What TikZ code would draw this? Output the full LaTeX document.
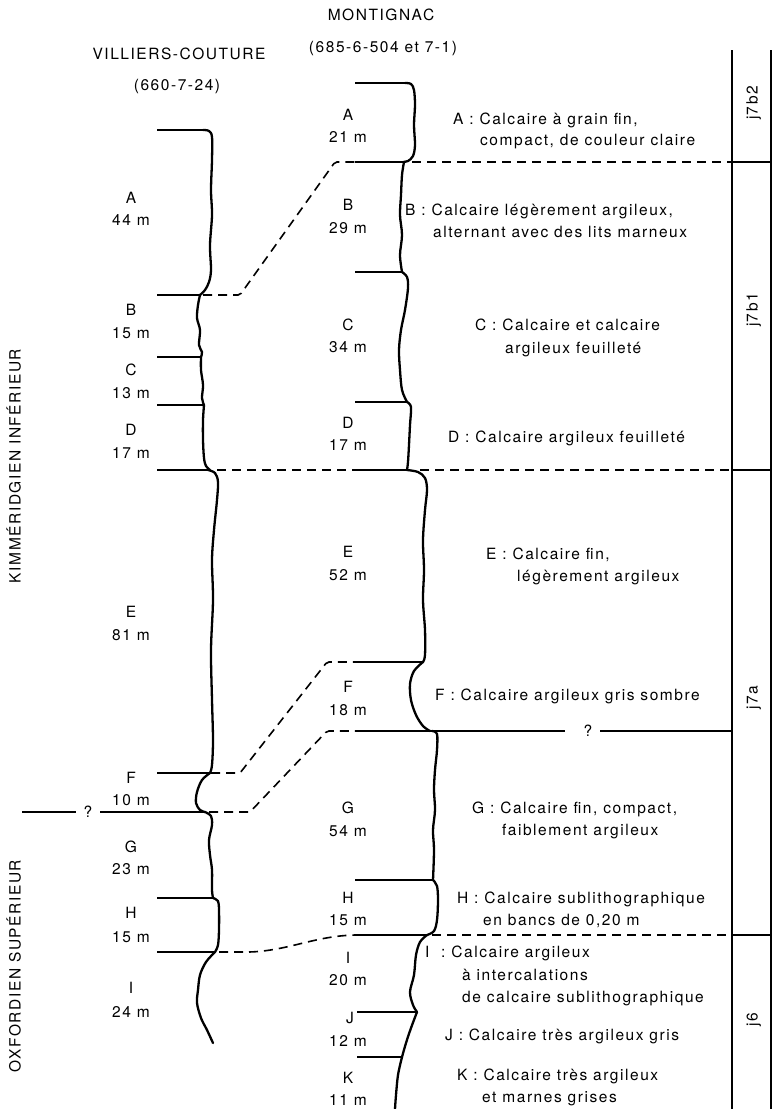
\documentclass[tikz,border=0pt]{standalone}
\usepackage{fontspec}
\setmainfont{TeX Gyre Heros}[LetterSpace=10]
\newcommand\fsz{\fontsize{15.5}{18}\selectfont}
\tikzset{
  hline/.style={line width=1.7pt},
  prof/.style={line width=2.3pt, line join=round, line cap=round},
  dsh/.style={line width=1.6pt, dash pattern=on 9pt off 6pt, rounded corners=2pt},
  colline/.style={line width=1.8pt},
  txt/.style={inner sep=0pt, text height=11pt, text depth=0pt, font=\fsz},
  lab/.style={txt, anchor=center},
  desc/.style={txt, anchor=west},
  rot/.style={txt, anchor=center, rotate=90}
}
\begin{document}
\begin{tikzpicture}[x=1pt,y=-1pt]
\fill[white] (0,0) rectangle (778,1109);
\useasboundingbox (0,0) rectangle (778,1109);

% ---------- titles ----------
\node[lab] (tM1) at (381,15) {MONTIGNAC};
\node[lab] (tM2) at (383,47) {(685-6-504 et 7-1)};
\node[lab] (tV1) at (179,54) {VILLIERS-COUTURE};
\node[lab] (tV2) at (177,85) {(660-7-24)};

\node[rot] (kim) at (15,466) {KIMMÉRIDGIEN INFÉRIEUR};
\node[rot] (oxf) at (15,966) {OXFORDIEN SUPÉRIEUR};

% ---------- right stage column ----------
\draw[colline] (732,50) -- (732,1109);
\draw[colline] (771,50) -- (771,1109);
\draw[hline] (732,162) -- (771,162);
\draw[hline] (732,470) -- (771,470);
\draw[hline] (732,935) -- (771,935);
\node[rot] (s1) at (752,103) {j7b2};
\node[rot] (s2) at (752,310) {j7b1};
\node[rot] (s3) at (752,698) {j7a};
\node[rot] (s4) at (752,1020) {j6};

% ---------- Villiers-Couture column ----------
\draw[hline] (157,130) -- (203,130);
\draw[prof] plot[smooth, tension=0.55] coordinates {(203,130) (209,131) (212,137) (212,160) (211,190) (212,215) (210,245) (211,270) (209,282) (205,290) (200,295)};
\draw[hline] (157,295) -- (200,295);
\draw[prof] plot[smooth, tension=0.55] coordinates {(200,295) (198,305) (197,318) (200,330) (199,345) (202,352) (201,357)};
\draw[hline] (157,357) -- (201,357);
\draw[prof] plot[smooth, tension=0.55] coordinates {(201,357) (201,370) (203,385) (202,398) (204,405)};
\draw[hline] (157,405) -- (204,405);
\draw[prof] plot[smooth, tension=0.55] coordinates {(204,405) (203,420) (203,440) (204,458) (206,466) (210,470)};
\draw[hline] (157,470) -- (210,470);
\draw[prof] plot[smooth, tension=0.55] coordinates {(208,470) (215,473) (218,482) (217,500) (214,530) (212,560) (213,600) (211,650) (212,700) (213,740) (212,765) (210,773)};
\draw[hline] (157,773) -- (210,773);
\draw[prof] plot[smooth, tension=0.55] coordinates {(210,773) (202,780) (197,792) (196,803) (200,810) (205,812)};
\draw[hline] (22,812) -- (76,812);
\node[lab] (q1) at (88,812) {?};
\draw[hline] (100,812) -- (205,812);
\draw[prof] plot[smooth, tension=0.55] coordinates {(205,812) (211,816) (212,825) (209,840) (210,855) (212,870) (212,890) (213,898)};
\draw[hline] (157,898) -- (213,898);
\draw[prof] plot[smooth, tension=0.55] coordinates {(213,898) (218,901) (219,910) (219,930) (218,945) (215,952)};
\draw[hline] (157,952) -- (215,952);
\draw[prof] plot[smooth, tension=0.55] coordinates {(215,952) (206,962) (200,975) (198,990) (197,1003) (201,1018) (207,1030) (213,1043)};

% Villiers labels
\node[lab] (vA1) at (131,198) {A};  \node[lab] (vA2) at (131,220) {44 m};
\node[lab] (vB1) at (131,310) {B};  \node[lab] (vB2) at (131,333) {15 m};
\node[lab] (vC1) at (131,370) {C};  \node[lab] (vC2) at (131,393) {13 m};
\node[lab] (vD1) at (131,430) {D};  \node[lab] (vD2) at (131,453) {17 m};
\node[lab] (vE1) at (131,612) {E};  \node[lab] (vE2) at (131,635) {81 m};
\node[lab] (vF1) at (131,778) {F};  \node[lab] (vF2) at (131,800) {10 m};
\node[lab] (vG1) at (131,847) {G};  \node[lab] (vG2) at (131,869) {23 m};
\node[lab] (vH1) at (131,913) {H};  \node[lab] (vH2) at (131,937) {15 m};
\node[lab] (vI1) at (131,988) {I};  \node[lab] (vI2) at (131,1012) {24 m};

% ---------- Montignac column ----------
\draw[hline] (355,83) -- (405,83);
\draw[prof] plot[smooth, tension=0.55] coordinates {(405,83) (411,84) (414,90) (415,105) (414,125) (415,145) (413,156) (408,161) (403,162)};
\draw[hline] (355,162) -- (404,162);
\draw[prof] plot[smooth, tension=0.55] coordinates {(404,162) (402,175) (401,195) (400,215) (402,235) (400,255) (402,272)};
\draw[hline] (355,272) -- (402,272);
\draw[prof] plot[smooth, tension=0.55] coordinates {(402,272) (407,277) (408,288) (405,310) (401,330) (399,350) (400,370) (402,390) (407,402)};
\draw[hline] (355,402) -- (407,402);
\draw[prof] plot[smooth, tension=0.55] coordinates {(407,402) (411,407) (410,425) (409,445) (408,462) (407,470)};
\draw[hline] (355,470) -- (407,470);
\draw[prof] plot[smooth, tension=0.55] coordinates {(407,470) (418,472) (425,478) (427,490) (425,510) (423,540) (424,570) (423,600) (425,630) (425,655) (423,662)};
\draw[hline] (355,662) -- (423,662);
\draw[prof] plot[smooth, tension=0.55] coordinates {(423,662) (414,671) (410,684) (411,700) (416,715) (423,726) (430,731)};
\draw[hline] (355,731) -- (565,731);
\node[lab] (q2) at (588,731) {?};
\draw[hline] (600,731) -- (732,731);
\draw[prof] plot[smooth, tension=0.55] coordinates {(432,731) (437,734) (437,750) (435,770) (434,790) (435,810) (433,830) (434,850) (433,880)};
\draw[hline] (355,880) -- (433,880);
\draw[prof] plot[smooth, tension=0.55] coordinates {(433,880) (437,886) (438,900) (437,920) (434,931) (427,935)};
\draw[hline] (355,935) -- (427,935);
\draw[prof] plot[smooth, tension=0.55] coordinates {(427,935) (420,942) (416,955) (414,975) (410,992) (413,1005) (417,1012)};
\draw[hline] (357,1012) -- (417,1012);
\draw[prof] plot[smooth, tension=0.55] coordinates {(417,1012) (411,1028) (406,1043) (402,1057)};
\draw[hline] (357,1057) -- (402,1057);
\draw[prof] plot[smooth, tension=0.55] coordinates {(402,1057) (398,1075) (396,1095) (395,1109)};

% Montignac labels
\node[lab] (mA1) at (348,115) {A};  \node[lab] (mA2) at (348,137) {21 m};
\node[lab] (mB1) at (348,205) {B};  \node[lab] (mB2) at (348,228) {29 m};
\node[lab] (mC1) at (348,325) {C};  \node[lab] (mC2) at (348,347) {34 m};
\node[lab] (mD1) at (348,423) {D};  \node[lab] (mD2) at (348,445) {17 m};
\node[lab] (mE1) at (348,552) {E};  \node[lab] (mE2) at (348,575) {52 m};
\node[lab] (mF1) at (348,687) {F};  \node[lab] (mF2) at (348,710) {18 m};
\node[lab] (mG1) at (348,808) {G};  \node[lab] (mG2) at (348,831) {54 m};
\node[lab] (mH1) at (348,898) {H};  \node[lab] (mH2) at (348,920) {15 m};
\node[lab] (mI1) at (348,958) {I};  \node[lab] (mI2) at (348,980) {20 m};
\node[lab] (mJ1) at (350,1018) {J}; \node[lab] (mJ2) at (348,1041) {12 m};
\node[lab] (mK1) at (348,1078) {K}; \node[lab] (mK2) at (348,1100) {11 m};

% ---------- correlation dashed lines ----------
\draw[dsh] (203,295) -- (240,295) -- (335,162) -- (355,162);
\draw[dsh] (412,162) -- (732,162);
\draw[dsh] (217,470) -- (355,470);
\draw[dsh] (420,470) -- (732,470);
\draw[dsh] (211,773) -- (240,773) -- (327,662) -- (355,662);
\draw[dsh] (209,812) -- (250,812) -- (327,731) -- (355,731);
\draw[dsh] (219,952) -- (250,952) .. controls (290,950) and (315,936) .. (355,935);
\draw[dsh] (432,935) -- (732,935);

% ---------- descriptions ----------
\node[desc] (dA1) at (453,119) {A : Calcaire à grain fin,};
\node[desc] (dA2) at (480,140) {compact, de couleur claire};
\node[desc] (dB1) at (405,210) {B : Calcaire légèrement argileux,};
\node[desc] (dB2) at (433,232) {alternant avec des lits marneux};
\node[desc] (dC1) at (475,325) {C : Calcaire et calcaire};
\node[desc] (dC2) at (505,348) {argileux feuilleté};
\node[desc] (dD1) at (448,437) {D : Calcaire argileux feuilleté};
\node[desc] (dE1) at (486,554) {E : Calcaire fin,};
\node[desc] (dE2) at (517,576) {légèrement argileux};
\node[desc] (dF1) at (435,695) {F : Calcaire argileux gris sombre};
\node[desc] (dG1) at (472,808) {G : Calcaire fin, compact,};
\node[desc] (dG2) at (502,830) {faiblement argileux};
\node[desc] (dH1) at (457,898) {H : Calcaire sublithographique};
\node[desc] (dH2) at (483,920) {en bancs de 0,20 m};
\node[desc] (dI1) at (425,952) {I\ \ : Calcaire argileux};
\node[desc] (dI2) at (462,975) {à intercalations};
\node[desc] (dI3) at (462,997) {de calcaire sublithographique};
\node[desc] (dJ1) at (445,1035) {J : Calcaire très argileux gris};
\node[desc] (dK1) at (457,1075) {K : Calcaire très argileux};
\node[desc] (dK2) at (482,1097) {et marnes grises};
\end{tikzpicture}
\end{document}
